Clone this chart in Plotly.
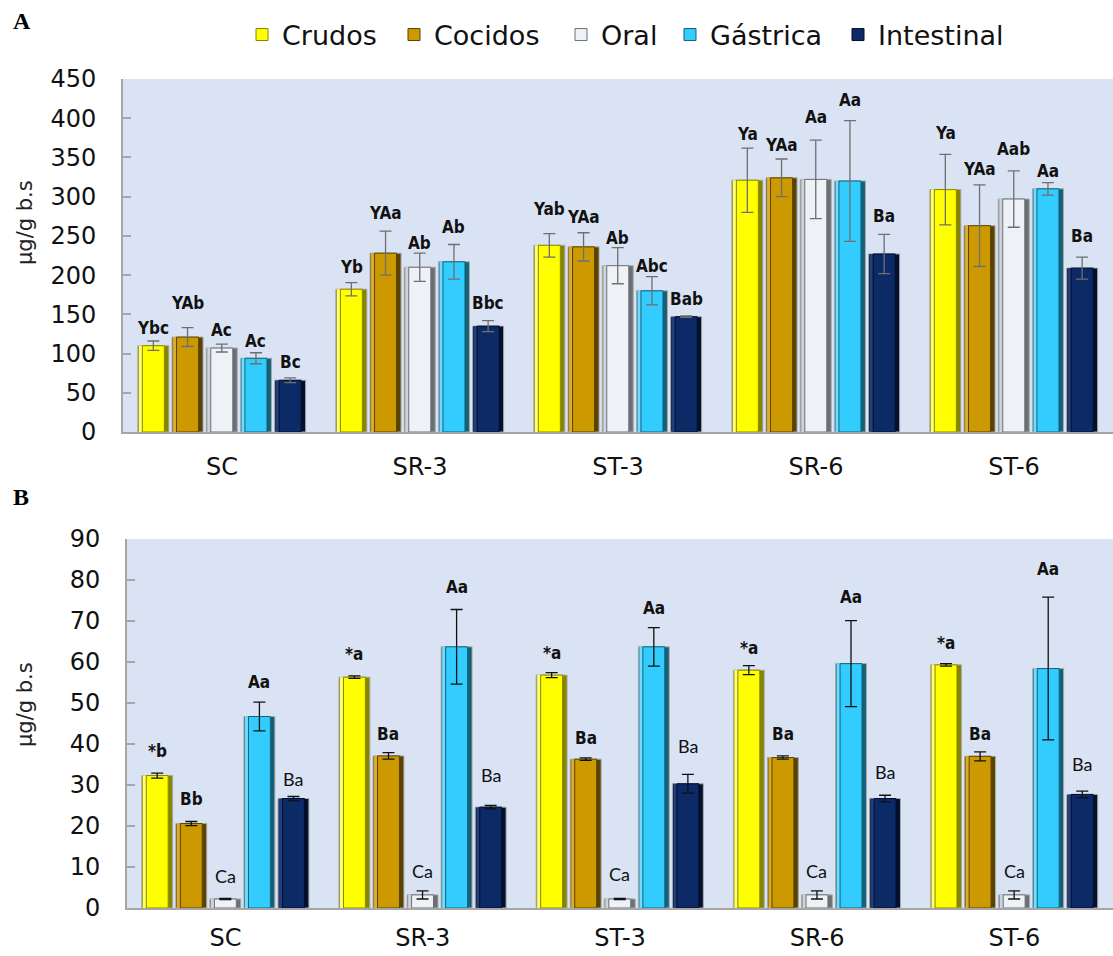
import plotly.graph_objects as go

# ---- data -------------------------------------------------------------
categories = ["SC", "SR-3", "ST-3", "SR-6", "ST-6"]
series_names = ["Crudos", "Cocidos", "Oral", "Gástrica", "Intestinal"]

# Panel A (µg/g b.s)
crudos_a = [110, 182, 238, 321, 309]
cocidos_a = [121, 228, 236, 324, 263]
oral_a = [107, 210, 212, 322, 297]
gastrica_a = [94, 217, 180, 320, 310]
intestinal_a = [66, 135, 147, 227, 209]

crudos_a_err = [6, 8.5, 15, 41, 45]
cocidos_a_err = [12, 28, 18, 24, 52]
oral_a_err = [5, 18, 23, 50, 36]
gastrica_a_err = [7, 22, 18, 77, 8]
intestinal_a_err = [3, 7, 1, 25, 14]

crudos_a_lbl = ["Ybc", "Yb", "Yab", "Ya", "Ya"]
cocidos_a_lbl = ["YAb", "YAa", "YAa", "YAa", "YAa"]
oral_a_lbl = ["Ac", "Ab", "Ab", "Aa", "Aab"]
gastrica_a_lbl = ["Ac", "Ab", "Abc", "Aa", "Aa"]
intestinal_a_lbl = ["Bc", "Bbc", "Bab", "Ba", "Ba"]

# Panel B (µg/g b.s)
crudos_b = [32.3, 56.3, 56.8, 58.0, 59.3]
cocidos_b = [20.6, 37.1, 36.3, 36.7, 37.0]
oral_b = [2.2, 3.2, 2.2, 3.2, 3.2]
gastrica_b = [46.7, 63.7, 63.7, 59.6, 58.4]
intestinal_b = [26.7, 24.6, 30.3, 26.7, 27.7]

crudos_b_err = [0.6, 0.3, 0.6, 1.1, 0.3]
cocidos_b_err = [0.5, 0.8, 0.3, 0.4, 1.1]
oral_b_err = [0.15, 1.0, 0.15, 1.0, 1.0]
gastrica_b_err = [3.5, 9.1, 4.7, 10.5, 17.4]
intestinal_b_err = [0.5, 0.4, 2.3, 0.8, 0.8]

crudos_b_lbl = ["*b", "*a", "*a", "*a", "*a"]
cocidos_b_lbl = ["Bb", "Ba", "Ba", "Ba", "Ba"]
oral_b_lbl = ["Ca", "Ca", "Ca", "Ca", "Ca"]
gastrica_b_lbl = ["Aa", "Aa", "Aa", "Aa", "Aa"]
intestinal_b_lbl = ["Ba", "Ba", "Ba", "Ba", "Ba"]

y_ticks_a = [0, 50, 100, 150, 200, 250, 300, 350, 400, 450]
y_ticks_b = [0, 10, 20, 30, 40, 50, 60, 70, 80, 90]

# ---- styling ----------------------------------------------------------
# (main face, light left bevel, dark right bevel)
shades = [
    ("#ffff00", "#ffff70", "#858500"),
    ("#cc9900", "#dcad2a", "#5a4300"),
    ("#eef2f6", "#cfd4da", "#6a7076"),
    ("#33ccff", "#6fdcff", "#136079"),
    ("#0c2a66", "#213f7d", "#030f2c"),
]
# label lift above the error-bar cap, in pixels  [category][series]
lift_a = [[13, 25, 14, 12, 16],
          [16, 18, 10, 18, 18],
          [25, 16, 10, 11, 17],
          [14, 14, 23, 21, 18],
          [21, 16, 22, 12, 21]]
lift_b = [[22, 22, 22, 20, 17],
          [22, 19, 20, 23, 31],
          [20, 20, 24, 20, 28],
          [18, 22, 20, 24, 23],
          [21, 18, 20, 28, 27]]
# panel B: which labels are drawn bold (per series)
bold_b = [True, True, False, True, False]
# left edge (px) of each legend entry's text
legend_text_x = [282, 434, 601, 710, 878]

W, H = 1113, 956
CAT_PX = (W - 123) / 5.0
bar_w = 31 / CAT_PX
step = 34.2 / CAT_PX
first_off = -0.425
band = 4.5 / CAT_PX
px1 = 1.0 / CAT_PX

bold_font = "DejaVu Sans Condensed, DejaVu Sans, sans-serif"
axis_font = "DejaVu Sans, Verdana, sans-serif"

fig = go.Figure()

panels = [
    dict(xa="x", ya="y",
         vals=[crudos_a, cocidos_a, oral_a, gastrica_a, intestinal_a],
         errs=[crudos_a_err, cocidos_a_err, oral_a_err, gastrica_a_err, intestinal_a_err],
         lbls=[crudos_a_lbl, cocidos_a_lbl, oral_a_lbl, gastrica_a_lbl, intestinal_a_lbl],
         lift=lift_a, errcolor="#6f6f6f", legend=True),
    dict(xa="x2", ya="y2",
         vals=[crudos_b, cocidos_b, oral_b, gastrica_b, intestinal_b],
         errs=[crudos_b_err, cocidos_b_err, oral_b_err, gastrica_b_err, intestinal_b_err],
         lbls=[crudos_b_lbl, cocidos_b_lbl, oral_b_lbl, gastrica_b_lbl, intestinal_b_lbl],
         lift=lift_b, errcolor="#111111", legend=False),
]

legend_ids = ["legend", "legend2", "legend3", "legend4", "legend5"]

annotations = []
for p_idx, p in enumerate(panels):
    for i, name in enumerate(series_names):
        main, light, dark = shades[i]
        off0 = first_off + i * step
        vals = p["vals"][i]
        # bevel: dark body, light left band, main face in the centre
        fig.add_trace(go.Bar(
            x=categories, y=vals, xaxis=p["xa"], yaxis=p["ya"],
            offset=off0, width=bar_w, showlegend=False, hoverinfo="skip",
            marker=dict(color=dark, line=dict(color="#a9a9a9", width=1))))
        fig.add_trace(go.Bar(
            x=categories, y=vals, xaxis=p["xa"], yaxis=p["ya"],
            offset=off0 + px1, width=bar_w - band - px1, showlegend=False,
            hoverinfo="skip", marker=dict(color=light, line=dict(width=0))))
        fig.add_trace(go.Bar(
            x=categories, y=vals, xaxis=p["xa"], yaxis=p["ya"], name=name,
            offset=off0 + band, width=bar_w - 2 * band,
            showlegend=p["legend"], legend=legend_ids[i],
            marker=dict(color=main, line=dict(color=dark, width=1)),
            error_y=dict(type="data", array=p["errs"][i], color=p["errcolor"],
                         thickness=1.3, width=6)))
        # letters above each bar
        for c_idx, cat in enumerate(categories):
            top = vals[c_idx] + p["errs"][i][c_idx]
            x_center = c_idx + off0 + bar_w / 2
            if p_idx == 0 or bold_b[i]:
                fnt = dict(family=bold_font, size=17, color="#111111", weight="bold")
            else:
                fnt = dict(family="Lato, Open Sans, sans-serif", size=18, color="#111111")
            annotations.append(dict(
                x=x_center, y=top, xref=p["xa"], yref=p["ya"],
                text=p["lbls"][i][c_idx], showarrow=False,
                yanchor="middle", xanchor="center",
                yshift=p["lift"][c_idx][i], font=fnt))

# panel letters
for letter, yc in (("A", 21), ("B", 497)):
    annotations.append(dict(x=11 / W, y=1 - yc / H, xref="paper", yref="paper",
                            text=letter, showarrow=False, xanchor="left", yanchor="middle",
                            font=dict(family="Liberation Serif, DejaVu Serif, serif",
                                      size=24, color="#000000", weight="bold")))
# y axis titles
for yc in (223, 705):
    annotations.append(dict(x=25 / W, y=1 - yc / H, xref="paper", yref="paper",
                            text="µg/g b.s", showarrow=False, textangle=-90,
                            xanchor="center", yanchor="middle",
                            font=dict(family=axis_font, size=21, color="#222222")))

x_common = dict(type="category", categoryorder="array", categoryarray=categories,
                range=[-0.5, 4.5], showline=True, linecolor="#a6a6a6", linewidth=2,
                ticks="", showgrid=False, zeroline=False, automargin=False,
                tickfont=dict(family=axis_font, size=24, color="#111111"))
y_common = dict(showline=True, linecolor="#a6a6a6", linewidth=2, ticks="inside",
                ticklen=8, tickcolor="#a6a6a6", tickwidth=1.5, showgrid=False,
                zeroline=False, ticklabelstandoff=20, automargin=False,
                tickfont=dict(family=axis_font, size=24, color="#111111"))

legend_layout = {}
for i, lid in enumerate(legend_ids):
    legend_layout[lid] = dict(
        orientation="h", x=(legend_text_x[i] - 40) / W, xanchor="left",
        y=1 - 35 / H, yanchor="middle", bgcolor="rgba(0,0,0,0)",
        borderwidth=0, itemwidth=30,
        font=dict(family=axis_font, size=27, color="#111111"))

fig.update_layout(
    width=W, height=H,
    margin=dict(l=0, r=0, t=0, b=0, pad=0, autoexpand=False),
    paper_bgcolor="#ffffff",
    plot_bgcolor="#dae3f3",
    barmode="overlay",
    showlegend=True,
    xaxis=dict(domain=[123 / W, 1.0], anchor="y", ticklabelstandoff=12, **x_common),
    yaxis=dict(domain=[1 - 432 / H, 1 - 79 / H], anchor="x", range=[0, 450],
               tickvals=y_ticks_a, **y_common),
    xaxis2=dict(domain=[127 / W, 1.0], anchor="y2", ticklabelstandoff=7, **x_common),
    yaxis2=dict(domain=[1 - 908 / H, 1 - 539 / H], anchor="x2", range=[0, 90],
                tickvals=y_ticks_b, **y_common),
    annotations=annotations,
    **legend_layout,
)

fig.write_html("out.html")
